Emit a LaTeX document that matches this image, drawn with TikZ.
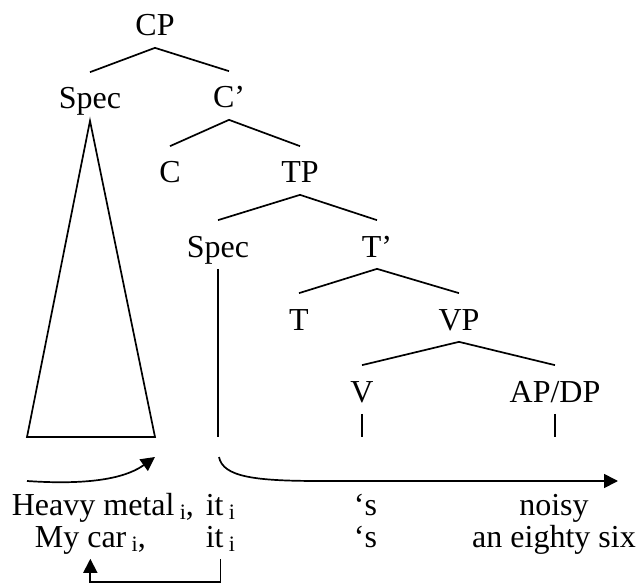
\documentclass[tikz,border=0pt]{standalone}
\usepackage{fontspec}
\setmainfont{Liberation Serif}
\usepackage{tikz}
\usetikzlibrary{arrows.meta}
\tikzset{cat/.style={anchor=base,inner sep=0pt,text height=18pt,text depth=5.5pt,font=\fontsize{16}{19}\selectfont}}
\tikzset{word/.style={anchor=base west,inner sep=0pt,text height=11pt,text depth=5.5pt,font=\fontsize{16}{19}\selectfont}}
\newcommand{\idx}[1]{\raisebox{-2pt}{\fontsize{11}{12}\selectfont #1}}

\begin{document}
\begin{tikzpicture}[x=0.5pt,y=-0.5pt,line width=0.85pt,>={Triangle[length=7pt,width=7pt]}]
    \useasboundingbox (0,0) rectangle (638,583);

    % tree labels, placed at their baselines
    \node[cat] (cp) at (155,36) {CP};
    \node[cat] (spec1) at (90,109) {Spec};
    \node[cat] (cbar) at (229,108) {C’};
    \node[cat] (c) at (170,183) {C};
    \node[cat] (tp) at (300,183) {TP};
    \node[cat] (spec2) at (218,257) {Spec};
    \node[cat] (tbar) at (377,257) {T’};
    \node[cat] (t) at (299,330) {T};
    \node[cat] (vp) at (459,330) {VP};
    \node[cat] (v) at (362,402) {V};
    \node[cat] (apdp) at (555,402) {AP/DP};

    % the two sentences
    \node[word] (heavy) at (11,515) {Heavy metal\,\idx{i},};
    \node[word] (it1) at (205,515) {it\,\idx{i}};
    \node[word] (s1) at (353,515) {‘s};
    \node[word,anchor=base] (noisy) at (554,515) {noisy};
    \node[word] (car) at (34,547) {My car\,\idx{i},};
    \node[word] (it2) at (205,547) {it\,\idx{i}};
    \node[word] (s2) at (353,547) {‘s};
    \node[word,anchor=base] (eighty) at (554,547) {an eighty six};

    \coordinate (tl) at (27,437);
    \coordinate (tr) at (155,437);
    \coordinate (topic) at (27,481);
    \coordinate (spot) at (155,457);
    \coordinate (moved) at (219,457);
    \coordinate (rest) at (618,481);

    % branches
    \draw (spec1.north) -- (cp.south) -- (cbar.north);
    \draw (c.north) -- (cbar.south) -- (tp.north);
    \draw (spec2.north) -- (tp.south) -- (tbar.north);
    \draw (t.north) -- (tbar.south) -- (vp.north);
    \draw (v.north) -- (vp.south) -- (apdp.north);

    % triangle and terminal lines
    \draw (spec1.south) -- (tl) -- (tr) -- cycle;
    \draw (spec2.south) -- (spec2 |- tl);
    \draw (v.south) -- (v |- tl);
    \draw (apdp.south) -- (apdp |- tl);

    % arrows
    \draw[->] (topic) .. controls (100,486) and (130,475) .. (spot);
    \draw[->] (moved) .. controls (223,477) and (255,481) .. (320,481) -- (rest);
    \draw[->] (it2.south) -- ++(0,23) -| (car.south);
\end{tikzpicture}
\end{document}
